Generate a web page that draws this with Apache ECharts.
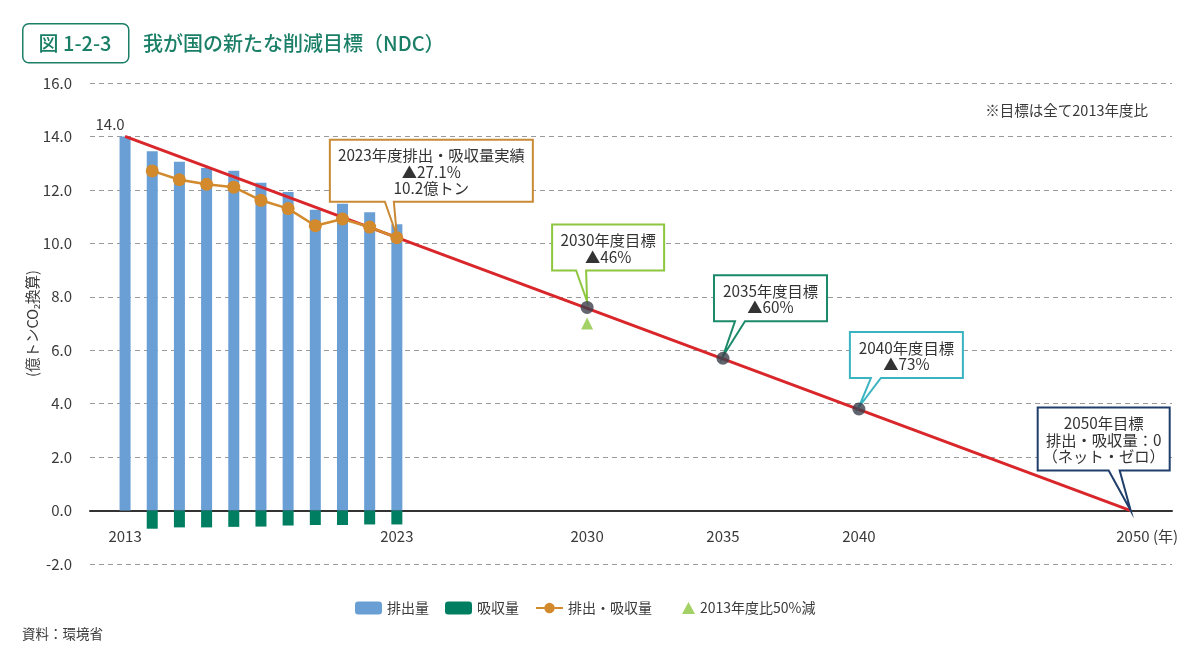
<!DOCTYPE html>
<html>
<head>
<meta charset="utf-8">
<script src="https://cdn.jsdelivr.net/npm/echarts@6/dist/echarts.min.js"></script>
<style>html,body{margin:0;padding:0;background:#fff;}#chart{width:1200px;height:655px;}</style>
</head>
<body>
<div id="chart"></div>
<script>
// ---- data ----
const years = [2013, 2014, 2015, 2016, 2017, 2018, 2019, 2020, 2021, 2022, 2023];
const emissions = [14.0, 13.45, 13.05, 12.82, 12.72, 12.27, 11.92, 11.26, 11.48, 11.16, 10.71];
const absorptionYears = [2014, 2015, 2016, 2017, 2018, 2019, 2020, 2021, 2022, 2023];
const absorption = [-0.68, -0.63, -0.63, -0.61, -0.60, -0.56, -0.54, -0.54, -0.52, -0.52];
const netYears = [2014, 2015, 2016, 2017, 2018, 2019, 2020, 2021, 2022, 2023];
const netValues = [12.71, 12.38, 12.21, 12.10, 11.61, 11.30, 10.66, 10.91, 10.61, 10.21];
const pathYears = [2013, 2050];
const pathValues = [14.0, 0];
const targetYears = [2030, 2035, 2040];
const targetValues = [7.6, 5.7, 3.8];
const halfYears = [2030];
const halfValues = [7.0];
const xTickYears = [2013, 2023, 2030, 2035, 2040, 2050];
const calloutYears = [2023, 2030, 2035, 2040, 2050];
const calloutValues = [10.21, 7.6, 5.7, 3.8, 0];
const calloutTexts = [
  '2023年度排出・吸収量実績\n▲27.1%\n10.2億トン',
  '2030年度目標\n▲46%',
  '2035年度目標\n▲60%',
  '2040年度目標\n▲73%',
  '2050年目標\n排出・吸収量：0\n（ネット・ゼロ）'
];
const names = ['排出量', '吸収量', '排出・吸収量', '2013年度比50%減'];
const titleTag = '図 1-2-3';
const titleText = '我が国の新たな削減目標（NDC）';
const noteText = '※目標は全て2013年度比';
const sourceText = '資料：環境省';
const yName = '(億トンCO₂換算)';

// ---- styles ----
const FF = '"Noto Sans CJK JP", "Noto Sans", sans-serif';
const TXT = '#3a3a3a';
const TEAL = '#1B7F67';
const calloutStyle = [
  {dx: -67, dy: -98, w: 203, h: 62, t1: -12, t2: -3, tip: -2, color: '#C98A35'},
  {dx: -35, dy: -83, w: 112, h: 46, t1: -11, t2: -1, tip: -6, color: '#8DC63F'},
  {dx: -9, dy: -83, w: 113, h: 46, t1: 12, t2: 22, tip: -2, color: '#1B8A6B'},
  {dx: -9, dy: -77, w: 113, h: 46, t1: 12, t2: 22, tip: -2, color: '#3BB4C1'},
  {dx: -93, dy: -103, w: 132, h: 63, t1: -22, t2: -11, tip: 0, color: '#1F3E6B'}
];

const zip = (a, b) => a.map((v, i) => [v, b[i]]);

const chart = echarts.init(document.getElementById('chart'));
const option = {
  backgroundColor: '#fff',
  animation: false,
  textStyle: {fontFamily: FF},
  grid: {left: 90, right: 28, top: 83, bottom: 91},
  graphic: [
    {type: 'rect', left: 22, top: 23, shape: {width: 106, height: 39, r: 6},
     style: {fill: '#fff', stroke: TEAL, lineWidth: 1.5}},
    {type: 'text', x: 75, y: 43, style: {text: titleTag, fontSize: 20, fill: TEAL, fontFamily: FF, align: 'center', verticalAlign: 'middle', fontWeight: 500}},
    {type: 'text', x: 143, y: 43, style: {text: titleText, fontSize: 20, fill: TEAL, fontFamily: FF, align: 'left', verticalAlign: 'middle', fontWeight: 500}},
    {type: 'text', x: 1148, y: 110, style: {text: noteText, fontSize: 14.5, fill: TXT, fontFamily: FF, align: 'right', verticalAlign: 'middle'}},
    {type: 'text', x: 22, y: 634, style: {text: sourceText, fontSize: 13.5, fill: TXT, fontFamily: FF, align: 'left', verticalAlign: 'middle'}}
  ],
  legend: [
    {left: 350, top: 596, itemWidth: 27, itemHeight: 13, itemGap: 16,
     textStyle: {fontSize: 14, color: TXT, fontFamily: FF},
     data: [names[0], names[1], names[2]]},
    {left: 677, top: 596, itemWidth: 13, itemHeight: 12, itemGap: 4,
     textStyle: {fontSize: 14, color: TXT, fontFamily: FF},
     data: [{name: names[3], icon: 'triangle'}]}
  ],
  xAxis: {
    type: 'value', min: 2011.71, max: 2051.52,
    splitLine: {show: false},
    axisTick: {show: false},
    axisLine: {onZero: true, lineStyle: {color: '#333', width: 2}},
    axisLabel: {
      customValues: xTickYears, margin: -35, fontSize: 15, color: TXT, fontFamily: FF,
      formatter: v => v === 2050 ? '{p|}2050{u| (年)}' : String(v),
      rich: {p: {width: 33}, u: {fontSize: 15, color: TXT, fontFamily: FF}}
    }
  },
  yAxis: {
    type: 'value', min: -2, max: 16, interval: 2,
    name: yName, nameLocation: 'middle', nameGap: 50, nameRotate: 90, nameMoveOverlap: false,
    nameTextStyle: {fontSize: 14.5, color: TXT, fontFamily: FF},
    axisLine: {show: false}, axisTick: {show: false},
    axisLabel: {fontSize: 15, color: TXT, margin: 18, fontFamily: FF, formatter: v => v.toFixed(1)},
    splitLine: {lineStyle: {color: '#9a9a9a', type: [5, 4], width: 1}}
  },
  series: [
    {name: names[0], type: 'bar', stack: 'a', barWidth: 11, z: 2,
     itemStyle: {color: '#6A9FD5'},
     data: zip(years, emissions).map((d, i) => i === 0 ? {value: d, label: {show: true, position: 'top', offset: [-15, 0], fontSize: 15, color: TXT, fontFamily: FF, formatter: p => p.value[1].toFixed(1)}} : d)},
    {name: names[1], type: 'bar', stack: 'a', barWidth: 11, z: 2,
     itemStyle: {color: '#007E62'},
     data: zip(absorptionYears, absorption)},
    {name: 'path', type: 'line', symbol: 'none', z: 3, silent: true,
     lineStyle: {color: '#D9262A', width: 3},
     data: zip(pathYears, pathValues)},
    {name: 'callouts', type: 'custom', z: 4, silent: true,
     data: zip(calloutYears, calloutValues),
     renderItem: (params, api) => {
       const p = api.coord([api.value(0), api.value(1)]);
       const L = calloutStyle[params.dataIndex];
       const x0 = p[0] + L.dx, y0 = p[1] + L.dy, x1 = x0 + L.w, y1 = y0 + L.h;
       const pts = [[x0, y0], [x1, y0], [x1, y1], [p[0] + L.t2, y1], [p[0], p[1] + L.tip], [p[0] + L.t1, y1], [x0, y1]];
       return {type: 'group', children: [
         {type: 'polygon', shape: {points: pts}, style: {fill: '#fff', stroke: L.color, lineWidth: 2}},
         {type: 'text', x: (x0 + x1) / 2, y: (y0 + y1) / 2 + 1,
          style: {text: calloutTexts[params.dataIndex], align: 'center', verticalAlign: 'middle', fontSize: 15.3, lineHeight: 16.5, fill: '#333', fontFamily: FF}}
       ]};
     }},
    {name: 'targets', type: 'scatter', symbol: 'circle', symbolSize: 13, z: 5, silent: true,
     itemStyle: {color: '#3C3F4B'},
     data: zip(targetYears, targetValues)},
    {name: names[3], type: 'scatter', symbol: 'triangle', symbolSize: 12, z: 5,
     itemStyle: {color: '#8DC63F'},
     data: zip(halfYears, halfValues)},
    {name: names[2], type: 'line', symbol: 'circle', symbolSize: 13, z: 6,
     lineStyle: {color: '#D38A2C', width: 2.5},
     itemStyle: {color: '#D38A2C'},
     data: zip(netYears, netValues)}
  ]
};
chart.setOption(option);
</script>
</body>
</html>
